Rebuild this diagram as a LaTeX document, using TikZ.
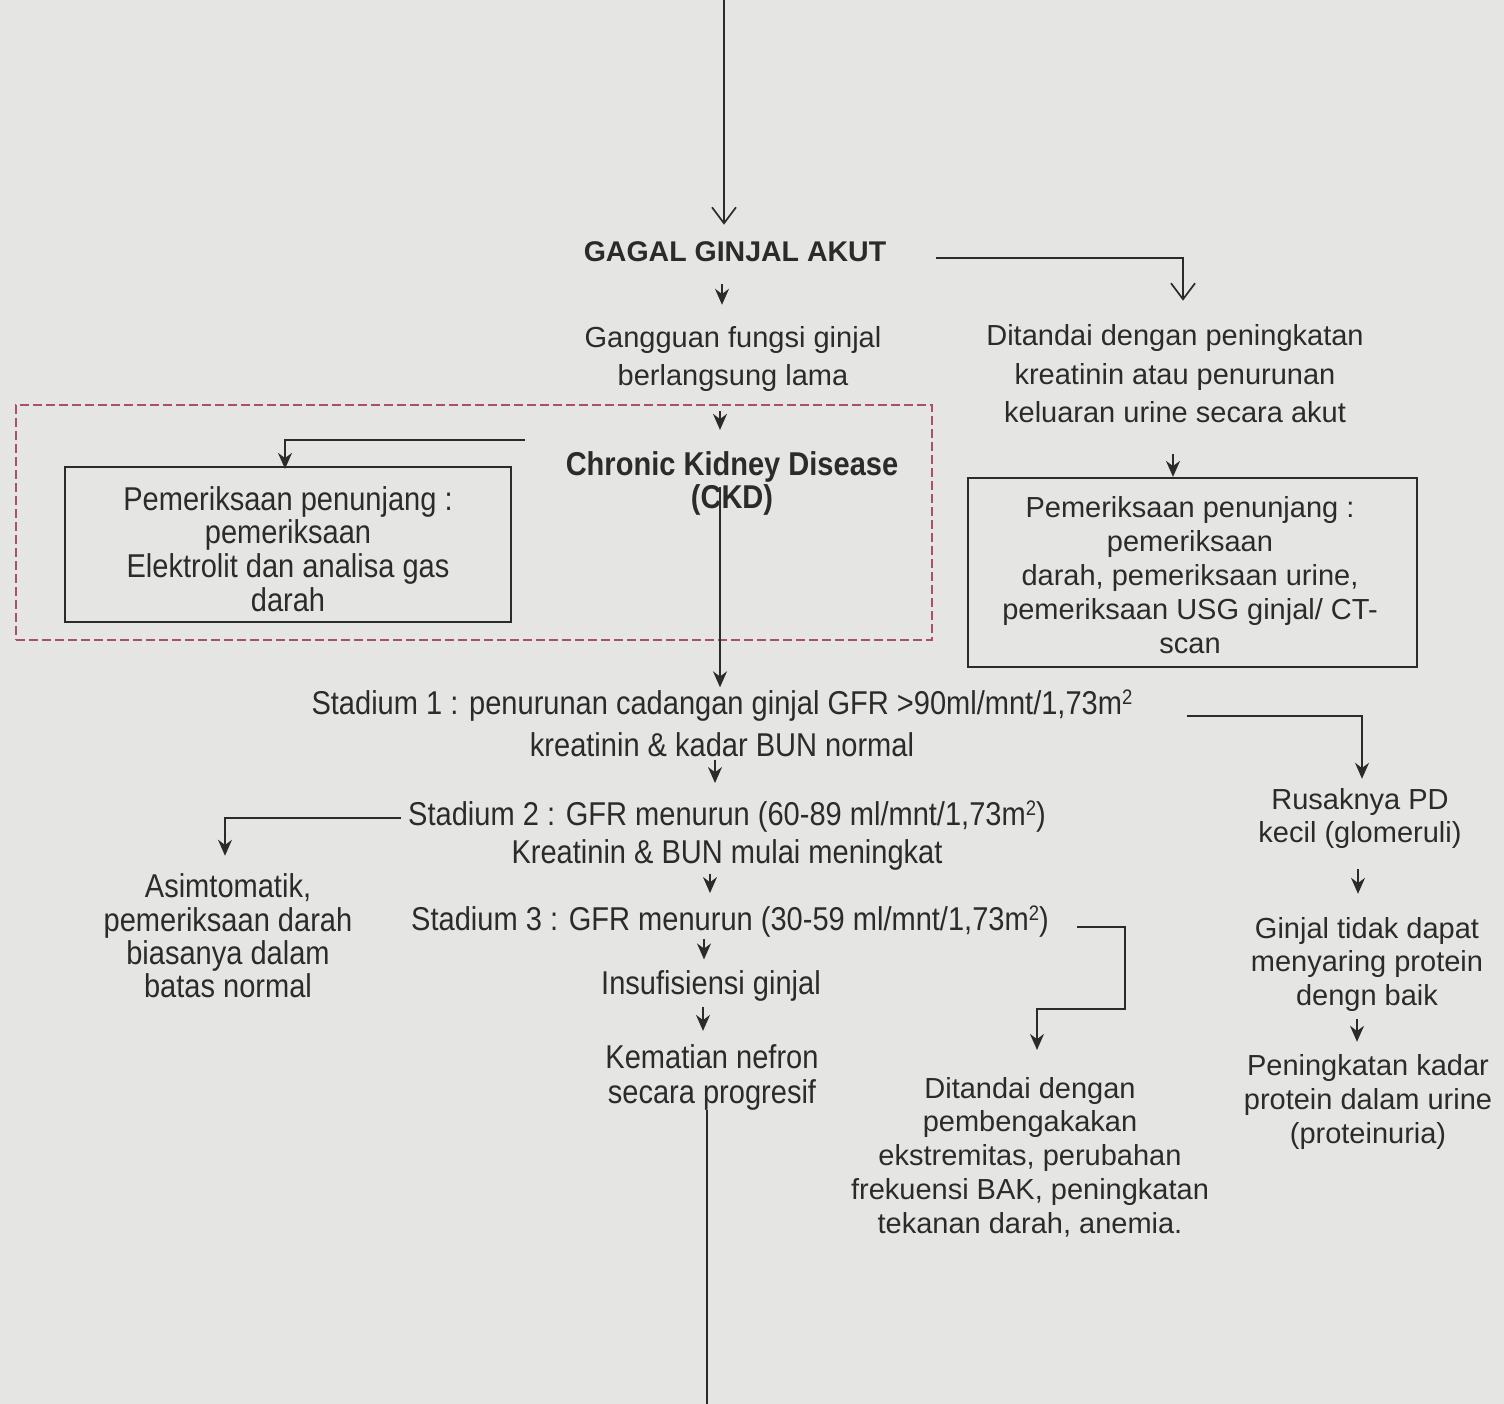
\documentclass[tikz,border=0pt]{standalone}
\usepackage{fontspec}
\setmainfont{Liberation Sans}
\newfontfamily\cond[FakeStretch=0.88]{Liberation Sans}
\usetikzlibrary{arrows.meta}
\definecolor{ink}{HTML}{2B2B2B}
\definecolor{paper}{HTML}{E5E6E4}
\definecolor{dashred}{HTML}{A8506C}
\newcommand{\sqm}{\raisebox{10pt}{\fontsize{21}{21}\selectfont 2}}
\tikzset{
  txt/.style={inner sep=0pt, align=center, text=ink, font=\fontsize{29}{34}\selectfont},
  ctxt/.style={inner sep=0pt, align=center, text=ink, font=\cond\fontsize{33}{34}\selectfont},
  boxed/.style={draw=ink, line width=2.2pt, inner sep=0pt},
  dashbox/.style={draw=dashred, line width=2.2pt, dash pattern=on 9pt off 4pt, inner sep=0pt},
  conn/.style={draw=ink, line width=1.7pt},
  sarr/.style={conn, -{Stealth[length=16pt,width=14pt]}},
  oarr/.style={conn, -{Straight Barb[length=16pt,width=24pt,line width=1.7pt]}},
}
\begin{document}
\begin{tikzpicture}[x=1pt,y=-1pt]
\fill[paper] (0,0) rectangle (1504,1404);
\useasboundingbox (0,0) rectangle (1504,1404);

% group frame
\node[dashbox, minimum width=916pt, minimum height=235pt] (grp) at (474,522.5) {};

% nodes
\node[txt, font=\bfseries\fontsize{28.5}{34}\selectfont] (gagal) at (735,252) {GAGAL GINJAL AKUT};
\node[txt, font=\fontsize{29}{38}\selectfont] (gang) at (733,359.5) {Gangguan fungsi ginjal\\berlangsung lama};
\node[txt, font=\fontsize{29}{38.5}\selectfont] (dit1) at (1175,374) {Ditandai dengan peningkatan\\kreatinin atau penurunan\\keluaran urine secara akut};
\node[ctxt, font=\cond\bfseries\fontsize{33}{33}\selectfont] (ckd) at (732,483) {Chronic Kidney Disease\\(CKD)};
\node[boxed, minimum width=446pt, minimum height=155pt] (lbox) at (288,544.5) {};
\node[ctxt, font=\cond\fontsize{33}{33.7}\selectfont] (lboxt) at (288,549) {Pemeriksaan penunjang :\\pemeriksaan\\Elektrolit dan analisa gas\\darah};
\node[boxed, minimum width=449pt, minimum height=189pt] (rbox) at (1192.5,572.5) {};
\node[txt, font=\fontsize{29}{34}\selectfont] (rboxt) at (1190,575) {Pemeriksaan penunjang :\\pemeriksaan\\darah, pemeriksaan urine,\\pemeriksaan USG ginjal/ CT-\\scan};
\node[ctxt, font=\cond\fontsize{33}{42}\selectfont] (st1) at (722,723) {Stadium 1 : penurunan cadangan ginjal GFR >90ml/mnt/1,73m\sqm\\kreatinin \& kadar BUN normal};
\node[ctxt, font=\cond\fontsize{33}{38}\selectfont] (st2) at (727,836) {Stadium 2 : GFR menurun (60-89 ml/mnt/1,73m\sqm)\\Kreatinin \& BUN mulai meningkat};
\node[ctxt] (st3) at (730,922) {Stadium 3 : GFR menurun (30-59 ml/mnt/1,73m\sqm)};
\node[ctxt] (insuf) at (711,986) {Insufisiensi ginjal};
\node[ctxt, font=\cond\fontsize{33}{35}\selectfont] (kemat) at (712,1077) {Kematian nefron\\secara progresif};
\node[ctxt, font=\cond\fontsize{33}{33.3}\selectfont] (asim) at (228,936) {Asimtomatik,\\pemeriksaan darah\\biasanya dalam\\batas normal};
\node[txt, font=\fontsize{29}{33}\selectfont] (rusak) at (1360,818) {Rusaknya PD\\kecil (glomeruli)};
\node[txt, font=\fontsize{29}{33.5}\selectfont] (ginj) at (1367,964) {Ginjal tidak dapat\\menyaring protein\\dengn baik};
\node[txt, font=\fontsize{29}{34}\selectfont] (pening) at (1368,1101.5) {Peningkatan kadar\\protein dalam urine\\(proteinuria)};
\node[txt, font=\fontsize{29}{33.75}\selectfont] (dit2) at (1030,1157) {Ditandai dengan\\pembengakakan\\ekstremitas, perubahan\\frekuensi BAK, peningkatan\\tekanan darah, anemia.};

\coordinate (top) at (724,0);
\coordinate (bottom) at (707,1404);

% connectors
\draw[oarr, shorten >=17pt] (top) -- ([xshift=-11pt]gagal.north);
\draw[oarr, shorten >=24pt] ([xshift=50pt,yshift=-6pt]gagal.east) -| ([xshift=8pt]dit1.north);
\draw[sarr, shorten <=22pt, shorten >=22pt] ([xshift=-13pt]gagal.south) -- ([xshift=-11pt]gang.north);
\draw[sarr, shorten <=19pt, shorten >=21pt] ([xshift=-13pt]gang.south) -- ([xshift=-12pt]ckd.north);
\draw[sarr, shorten <=31pt] ([xshift=-2pt]dit1.south) -- ([xshift=-19.5pt]rbox.north);
\draw[sarr] ([xshift=-41pt,yshift=43pt]ckd.west) -| ([xshift=-3pt,yshift=-3pt]lbox.north);
\draw[sarr] ([xshift=-12pt,yshift=-4pt]ckd.center) -- ([xshift=-2pt,yshift=2pt]st1.north);
\draw[sarr, shorten <=3pt, shorten >=18pt] ([xshift=-7pt]st1.south) -- ([xshift=-12pt]st2.north);
\draw[sarr, shorten <=3pt, shorten >=13pt] ([xshift=-17pt]st2.south) -- ([xshift=-20pt]st3.north);
\draw[sarr, shorten <=1pt, shorten >=11pt] ([xshift=-26pt]st3.south) -- ([xshift=-7pt]insuf.north);
\draw[sarr, shorten <=5pt, shorten >=13pt] ([xshift=-8pt]insuf.south) -- ([xshift=-9pt]kemat.north);
\draw[conn] ([xshift=-5pt]kemat.south) -- (bottom);
\draw[sarr, shorten >=9pt] ([xshift=54pt,yshift=7pt]st1.east) -| ([xshift=2pt]rusak.north);
\draw[sarr, shorten >=18pt] ([xshift=-7pt,yshift=18pt]st2.west) -| ([xshift=-3pt]asim.north);
\draw[sarr, shorten >=27pt] ([xshift=28pt,yshift=-5pt]st3.east) -- ++(48,0) -- ++(0,82) -| ([xshift=7pt]dit2.north);
\draw[sarr, shorten <=21pt, shorten >=23pt] ([xshift=-2pt]rusak.south) -- ([xshift=-9pt]ginj.north);
\draw[sarr, shorten <=8pt, shorten >=12pt] ([xshift=-10pt]ginj.south) -- ([xshift=-11pt]pening.north);
\end{tikzpicture}
\end{document}
